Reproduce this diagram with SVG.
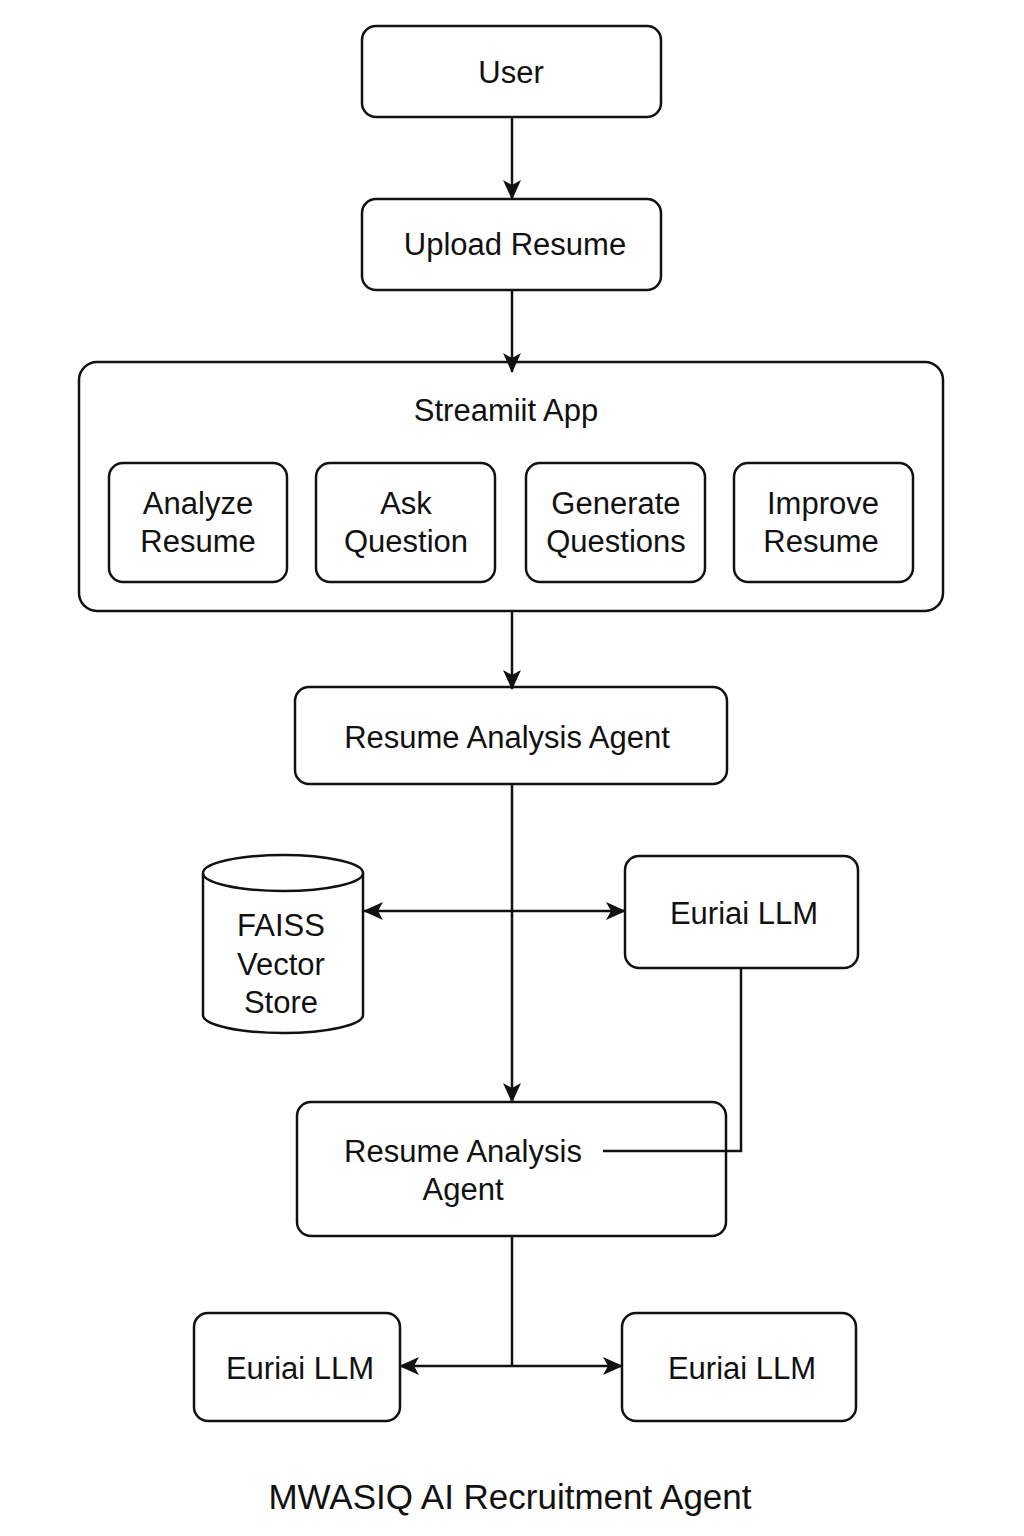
<svg xmlns="http://www.w3.org/2000/svg" width="1024" height="1536" viewBox="0 0 1024 1536">
<style>
.box{fill:#fff;stroke:#111;stroke-width:2.5}
.t{font-family:"Liberation Sans",Arial,sans-serif;font-size:31px;fill:#111;text-anchor:middle}
.c{fill:none;stroke:#111;stroke-width:2.5}
</style>
<defs>
<marker id="ah" viewBox="0 0 20 18" refX="19" refY="9" markerWidth="20" markerHeight="18" markerUnits="userSpaceOnUse" orient="auto-start-reverse">
<path d="M0,0 L20,9 L0,18 L5,9 Z" fill="#111"/>
</marker>
</defs>
<rect width="1024" height="1536" fill="#fff"/>
<g id="user"><rect class="box" x="362" y="26" width="299" height="91" rx="14"/><text class="t" x="511" y="83">User</text></g>
<g id="upload"><rect class="box" x="362" y="199" width="299" height="91" rx="14"/><text class="t" x="515" y="255">Upload Resume</text></g>
<g id="streamlit"><rect class="box" x="79" y="362" width="864" height="249" rx="18"/><text class="t" x="506" y="421">Streamiit App</text></g>
<g id="analyze"><rect class="box" x="109" y="463" width="178" height="119" rx="14"/><text class="t" x="198" y="514">Analyze</text><text class="t" x="198" y="552">Resume</text></g>
<g id="ask"><rect class="box" x="316" y="463" width="179" height="119" rx="14"/><text class="t" x="406" y="514">Ask</text><text class="t" x="406" y="552">Question</text></g>
<g id="generate"><rect class="box" x="526" y="463" width="179" height="119" rx="14"/><text class="t" x="616" y="514">Generate</text><text class="t" x="616" y="552">Questions</text></g>
<g id="improve"><rect class="box" x="734" y="463" width="179" height="119" rx="14"/><text class="t" x="823" y="514">Improve</text><text class="t" x="821" y="552">Resume</text></g>
<g id="agent1"><rect class="box" x="295" y="687" width="432" height="97" rx="14"/><text class="t" x="507" y="748">Resume Analysis Agent</text></g>
<g id="faiss">
<path class="box" d="M203,873 L203,1015 A80,18 0 0 0 363,1015 L363,873"/>
<ellipse class="box" cx="283" cy="873" rx="80" ry="18"/>
<text class="t" x="281" y="936">FAISS</text><text class="t" x="281" y="975">Vector</text><text class="t" x="281" y="1013">Store</text>
</g>
<g id="llm1"><rect class="box" x="625" y="856" width="233" height="112" rx="14"/><text class="t" x="744" y="924">Euriai LLM</text></g>
<g id="agent2"><rect class="box" x="297" y="1102" width="429" height="134" rx="14"/><text class="t" x="463" y="1162">Resume Analysis</text><text class="t" x="463" y="1200">Agent</text></g>
<g id="llm2"><rect class="box" x="194" y="1313" width="206" height="108" rx="14"/><text class="t" x="300" y="1379">Euriai LLM</text></g>
<g id="llm3"><rect class="box" x="622" y="1313" width="234" height="108" rx="14"/><text class="t" x="742" y="1379">Euriai LLM</text></g>
<g id="connectors">
<line class="c" x1="512" y1="117" x2="512" y2="199" marker-end="url(#ah)"/>
<line class="c" x1="512" y1="290" x2="512" y2="372" marker-end="url(#ah)"/>
<line class="c" x1="512" y1="611" x2="512" y2="689" marker-end="url(#ah)"/>
<line class="c" x1="512" y1="784" x2="512" y2="1102" marker-end="url(#ah)"/>
<line class="c" x1="364" y1="911" x2="625" y2="911" marker-start="url(#ah)" marker-end="url(#ah)"/>
<polyline class="c" points="741,968 741,1151 603,1151"/>
<line class="c" x1="512" y1="1236" x2="512" y2="1366"/>
<line class="c" x1="400" y1="1366" x2="622" y2="1366" marker-start="url(#ah)" marker-end="url(#ah)"/>
</g>
<text class="t" x="510" y="1509" style="font-size:35px">MWASIQ AI Recruitment Agent</text>
</svg>
